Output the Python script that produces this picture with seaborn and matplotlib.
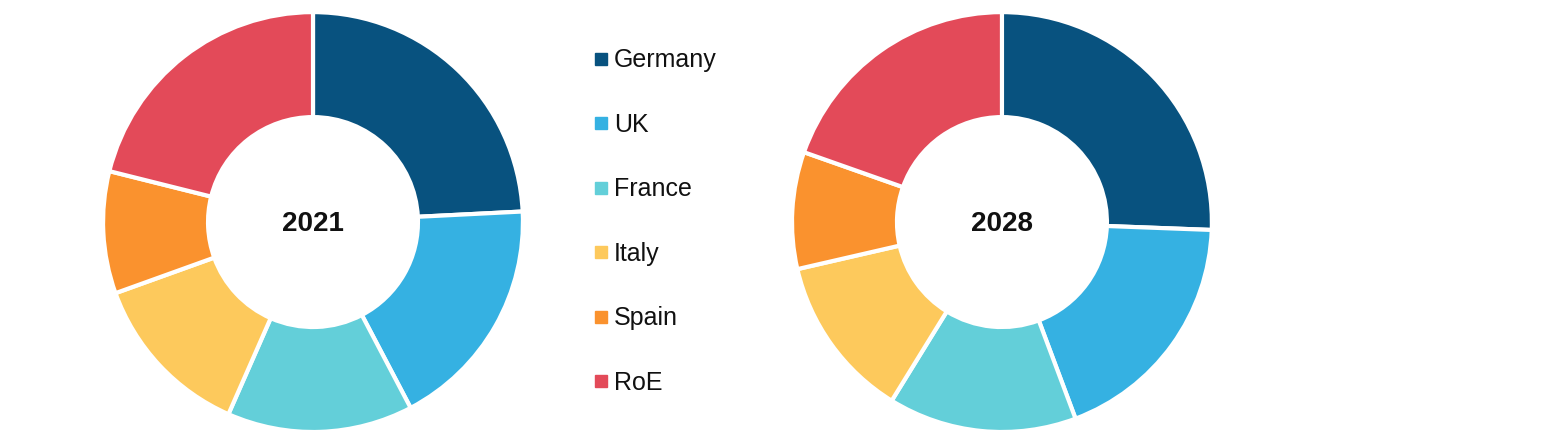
import seaborn as sns
import matplotlib.pyplot as plt
from matplotlib.lines import Line2D

countries = ["Germany", "UK", "France", "Italy", "Spain", "RoE"]
share_2021 = [24.2, 18.1, 14.3, 12.9, 9.4, 21.1]
share_2028 = [25.6, 18.7, 14.5, 12.6, 9.0, 19.6]
years = ["2021", "2028"]

sns.set_theme(style="white")
plt.rcParams['font.family'] = ['Liberation Sans', 'DejaVu Sans']
colors = sns.color_palette(["#08527f", "#35b1e2", "#63cfd9", "#fdc95c", "#fa922e", "#e34a59"])

fig = plt.figure(figsize=(15.58, 4.36), dpi=100)
ax1 = fig.add_axes([0.0661, 0.0092, 0.2696, 0.963])
ax2 = fig.add_axes([0.5083, 0.0092, 0.2696, 0.963])

for ax, vals, yr in zip([ax1, ax2], [share_2021, share_2028], years):
    ax.pie(vals, colors=colors, startangle=90, counterclock=False,
           wedgeprops=dict(width=0.5, edgecolor="white", linewidth=3))
    ax.text(0, -0.01, yr, ha="center", va="center", fontsize=20, fontweight="bold", color="#111111")
    ax.set_xlim(-1.0, 1.0)
    ax.set_ylim(-1.0, 1.0)
    ax.set_aspect("equal")

handles = [Line2D([], [], marker="s", linestyle="none", markersize=8, color=c) for c in colors]
fig.legend(handles, countries, loc="upper left", bbox_to_anchor=(0.373, 0.912),
           frameon=False, fontsize=18, labelspacing=1.62, handletextpad=0.1,
           handlelength=0.8, borderaxespad=0, labelcolor="#111111")

plt.savefig("out.png", dpi=100)
